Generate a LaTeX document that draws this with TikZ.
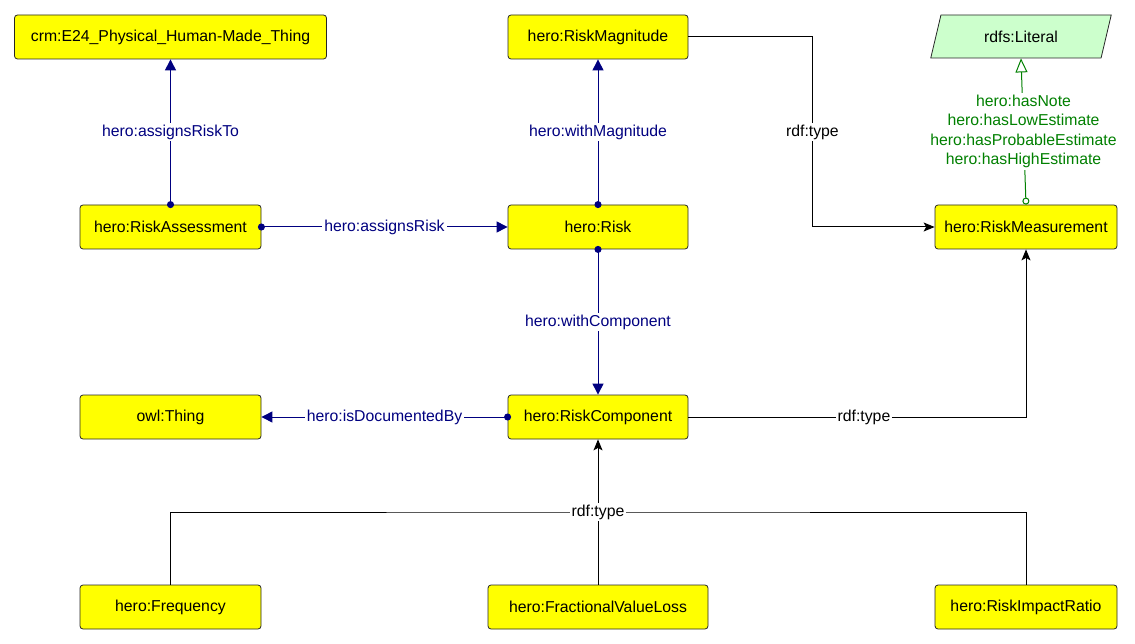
\documentclass[tikz,border=0pt]{standalone}
\usepackage{fontspec}
\setmainfont{Liberation Sans}
\usetikzlibrary{arrows.meta,shapes.geometric}
\definecolor{edgeblue}{RGB}{0,0,128}
\definecolor{litgreen}{RGB}{0,128,0}
\definecolor{litfill}{RGB}{204,255,204}
\definecolor{boxfill}{RGB}{255,255,0}

\begin{document}
\begin{tikzpicture}[x=1pt,y=-1pt,
  font=\fontsize{15.8pt}{19.5pt}\selectfont,
  cls/.style={draw=black!85, line width=0.8pt, fill=boxfill, rounded corners=3pt,
    minimum height=44pt, inner sep=0pt, anchor=center},
  lit/.style={draw=black!85, line width=0.8pt, fill=litfill, trapezium,
    trapezium stretches=true, trapezium left angle=68, trapezium right angle=112,
    minimum width=181pt, minimum height=43pt, inner sep=0pt, anchor=center},
  prop/.style={draw=edgeblue, line width=1pt,
    {Circle[length=7pt]}-{Triangle[length=11pt,width=11pt]}, shorten <=-3.5pt},
  plbl/.style={fill=white, text=edgeblue, inner sep=2pt},
  typ/.style={draw=black, line width=1pt, -{Stealth[length=11pt,width=9pt,inset=2.5pt]}},
  tlbl/.style={fill=white, text=black, inner sep=2pt},
  dprop/.style={draw=litgreen, line width=1pt,
    {Circle[open,length=7pt,width=7pt]}-{Triangle[open,length=14pt,width=12pt]}},
  dlbl/.style={fill=white, text=litgreen, align=center, inner sep=2pt}
]
\useasboundingbox (0,0) rectangle (1135,644);

% classes
\node[cls, minimum width=312pt] (e24)  at (170.5,37) {crm:E24\_Physical\_Human-Made\_Thing};
\node[cls, minimum width=180pt] (mag)  at (598,37)   {hero:RiskMagnitude};
\node[lit] (lit) at (1021,36.5) {rdfs:Literal};
\node[cls, minimum width=181pt] (ra)   at (170.5,227) {hero:RiskAssessment};
\node[cls, minimum width=180pt] (risk) at (598,227)   {hero:Risk};
\node[cls, minimum width=182pt] (meas) at (1026,227)  {hero:RiskMeasurement};
\node[cls, minimum width=181pt] (owl)  at (170.5,417) {owl:Thing};
\node[cls, minimum width=180pt] (rc)   at (598,417)   {hero:RiskComponent};
\node[cls, minimum width=181pt] (freq) at (170.5,607) {hero:Frequency};
\node[cls, minimum width=220pt] (fvl)  at (598,607)   {hero:FractionalValueLoss};
\node[cls, minimum width=182pt] (ratio) at (1026,607) {hero:RiskImpactRatio};

% object properties
\draw[prop] (ra.north) -- node[midway, plbl] {hero:assignsRiskTo} (e24.south);
\draw[prop] (ra.east) -- node[midway, plbl] {hero:assignsRisk} (risk.west);
\draw[prop] (risk.north) -- node[midway, plbl] {hero:withMagnitude} (mag.south);
\draw[prop] (risk.south) -- node[midway, plbl] {hero:withComponent} (rc.north);
\draw[prop] (rc.west) -- node[midway, plbl] {hero:isDocumentedBy} (owl.east);

% datatype properties
\draw[dprop] (meas.north) -- node[midway, dlbl]
  {hero:hasNote\\hero:hasLowEstimate\\hero:hasProbableEstimate\\hero:hasHighEstimate} (lit.south);

% rdf:type links
\draw[typ] (mag.east) -- ++(124,0) |- node[pos=0.25, tlbl] {rdf:type} (meas.west);
\draw[typ] (rc.east) -| node[pos=0.26, tlbl] {rdf:type} (meas.south);
\coordinate (junc) at (598,512);
\draw[line width=1pt] (freq.north) |- (junc) -| (ratio.north);
\draw[typ] (fvl.north) -- (rc.south);
\node[tlbl] at (junc) {rdf:type};
\end{tikzpicture}
\end{document}
